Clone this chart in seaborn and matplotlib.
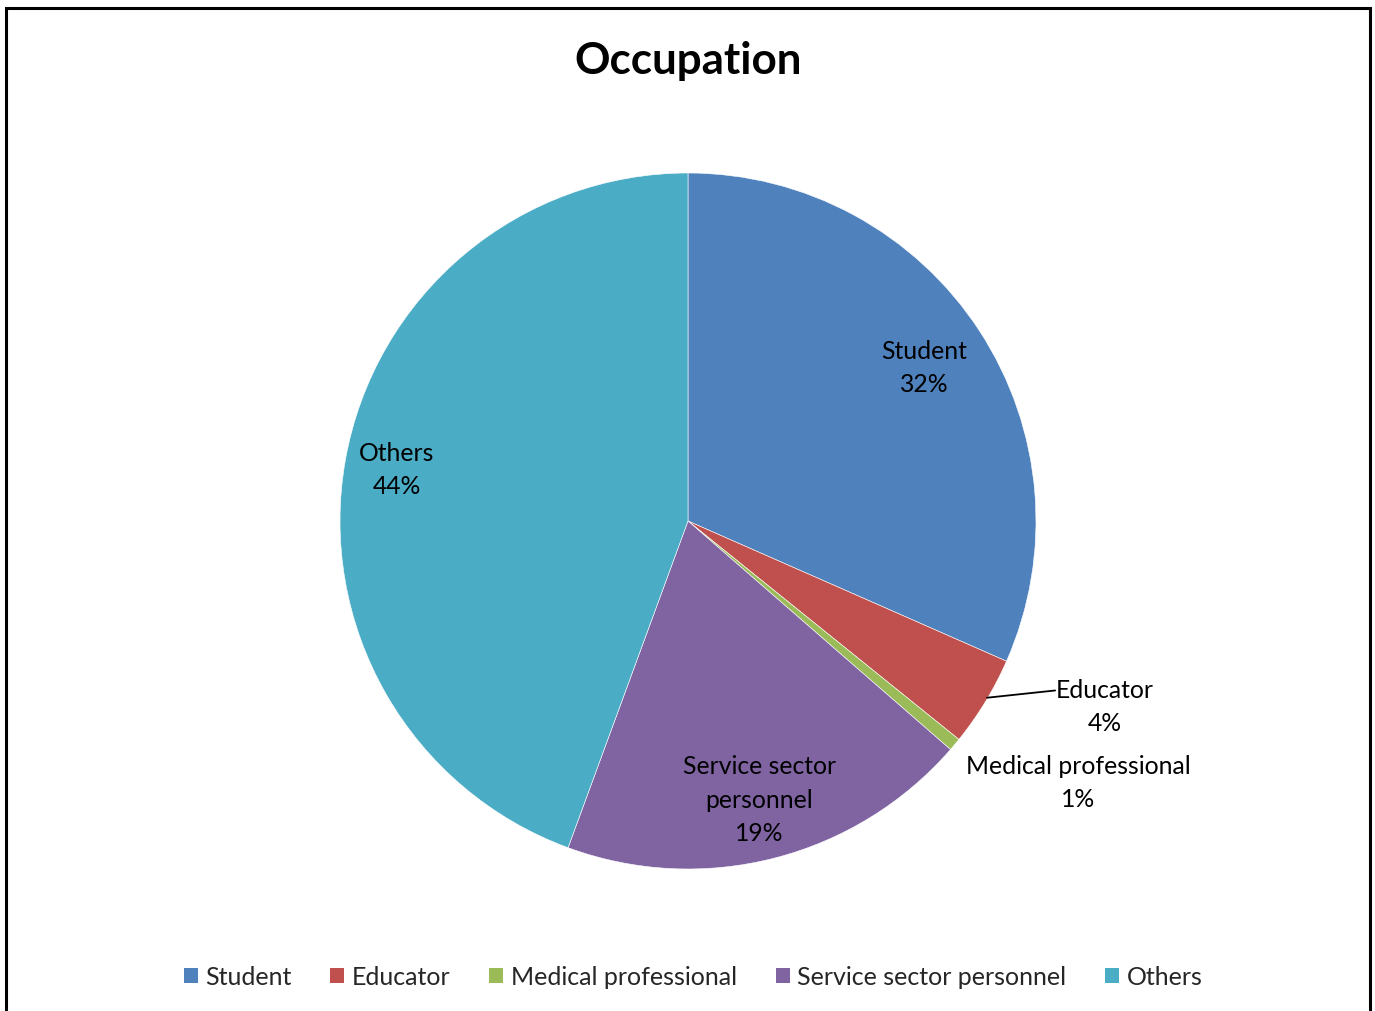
import numpy as np
import matplotlib
matplotlib.use("Agg")
import matplotlib.pyplot as plt
import seaborn as sns
from matplotlib.patches import Rectangle

categories = ["Student", "Educator", "Medical professional", "Service sector personnel", "Others"]
values = [31.6, 4.2, 0.6, 19.2, 44.4]
colors = ["#4F81BD", "#C0504D", "#9BBB59", "#8064A2", "#4BACC6"]
slice_labels = ["Student", "Educator", "Medical professional", "Service sector\npersonnel", "Others"]

sns.set_theme(style="white")
plt.rcParams["font.family"] = ["Lato", "DejaVu Sans"]

W, H = 1375, 1012
fig = plt.figure(figsize=(W / 100, H / 100), dpi=100)
cx, cy, R = 688, 522, 348
ax = fig.add_axes([(cx - R) / W, (H - cy - R) / H, 2 * R / W, 2 * R / H])

wedges, _ = ax.pie(values, colors=colors, startangle=90, counterclock=False,
                   radius=1.0, wedgeprops=dict(edgecolor="white", linewidth=0.4))
ax.set_xlim(-1, 1)
ax.set_ylim(-1, 1)
ax.set_aspect("equal")
ax.axis("off")

total = sum(values)
pct = [f"{int(v / total * 100 + 0.5)}%" for v in values]

fs = 17.8
ls = 1.55
# inside labels
radii = {0: 0.81, 3: 0.825, 4: 0.85}
for i in [0, 3, 4]:
    w = wedges[i]
    ang = np.deg2rad((w.theta1 + w.theta2) / 2)
    r = radii[i]
    ax.text(r * np.cos(ang), r * np.sin(ang), f"{slice_labels[i]}\n{pct[i]}",
            ha="center", va="center", fontsize=fs, linespacing=ls, color="black")

# Educator with leader line
w = wedges[1]
ang = np.deg2rad((w.theta1 + w.theta2) / 2)
ex, ey = np.cos(ang), np.sin(ang)
lx, ly = 1.055, -0.487
ax.plot([ex + 0.005, lx], [ey + 0.012, ly], color="black", lw=1.3, clip_on=False)
ax.text(1.198, -0.532, f"{slice_labels[1]}\n{pct[1]}", ha="center", va="center",
        fontsize=fs, linespacing=ls, color="black")

# Medical professional
ax.text(1.122, -0.75, f"{slice_labels[2]}\n{pct[2]}", ha="center", va="center",
        fontsize=fs, linespacing=ls, color="black")

fig.text(cx / W, 1 - 61 / H, "Occupation", ha="center", va="center",
         fontsize=31.7, fontweight="bold", color="black")

handles = [Rectangle((0, 0), 1, 1, facecolor=c, edgecolor="none") for c in colors]
fig.legend(handles, categories, loc="center", bbox_to_anchor=(693 / W, 1 - 978 / H),
           ncol=5, frameon=False, fontsize=18, handlelength=0.56, handleheight=0.56,
           handletextpad=0.3, columnspacing=1.55)

fig.patches.append(Rectangle((6 / W, -0.02), (1370 - 6) / W, 1.02 - 9 / H,
                             transform=fig.transFigure, fill=False,
                             edgecolor="black", linewidth=2.2))

fig.savefig("out.png", dpi=100, facecolor="white")
